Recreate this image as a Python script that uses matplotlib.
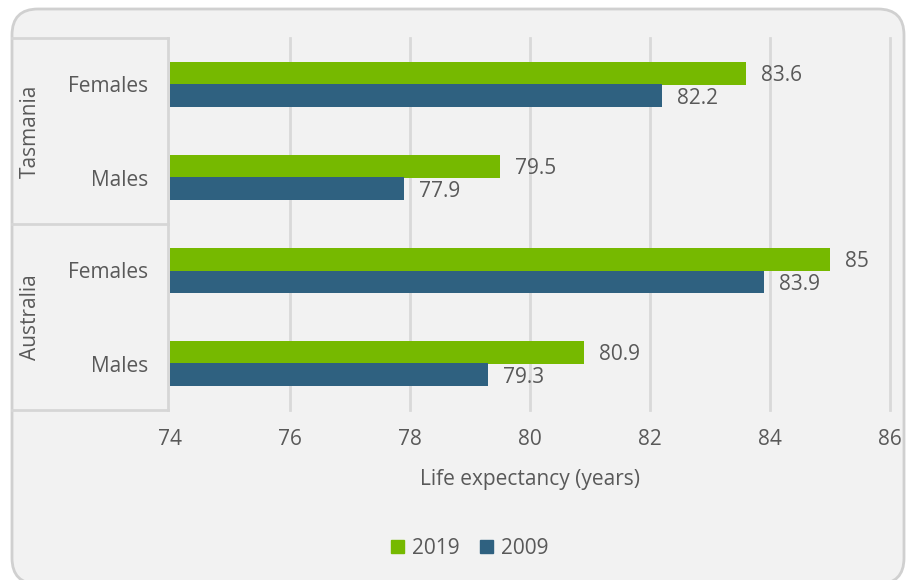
import matplotlib.pyplot as plt
import numpy as np
from matplotlib.patches import FancyBboxPatch, Patch
from matplotlib.lines import Line2D

plt.rcParams['font.family'] = ['Open Sans', 'DejaVu Sans']

groups = ['Tasmania', 'Australia']
sexes = ['Females', 'Males', 'Females', 'Males']
vals_2019 = [83.6, 79.5, 85.0, 80.9]
vals_2009 = [82.2, 77.9, 83.9, 79.3]
xticks = [74, 76, 78, 80, 82, 84, 86]

GREEN = '#76b900'
BLUE = '#2f6180'
TXT = '#595959'
GRID = '#d9d9d9'
FS = 15

W, H = 906, 580
fig = plt.figure(figsize=(W / 100, H / 100), dpi=100)
fig.patch.set_facecolor('white')

# rounded panel behind everything (pixel coords)
panel = FancyBboxPatch((12, -4), 892, 575, boxstyle='round,pad=0,rounding_size=26',
                       transform=None, facecolor='#f2f2f2', edgecolor='#d0d0d0',
                       linewidth=2, zorder=-5)
fig.patches.append(panel)

x0, x1, y0, y1 = 170, 890, 38, 410
ax = fig.add_axes([x0 / W, 1 - y1 / H, (x1 - x0) / W, (y1 - y0) / H])
ax.set_facecolor('none')
ax.set_zorder(2)

n = len(sexes)
ypos = np.arange(n)[::-1]
bh = 0.237
ax.barh(ypos + bh / 2, np.array(vals_2019) - 74, left=74, height=bh, color=GREEN, label='2019', zorder=3)
ax.barh(ypos - bh / 2, np.array(vals_2009) - 74, left=74, height=bh, color=BLUE, label='2009', zorder=3)

for y, v in zip(ypos, vals_2019):
    ax.annotate(f'{v:g}', (v, y + bh / 2), xytext=(11, 0), textcoords='offset points',
                va='center_baseline', ha='left', fontsize=FS, color=TXT)
for y, v in zip(ypos, vals_2009):
    ax.annotate(f'{v:g}', (v, y - bh / 2), xytext=(11, 0), textcoords='offset points',
                va='center_baseline', ha='left', fontsize=FS, color=TXT)

ax.set_xlim(74, 86)
ax.set_ylim(-0.5, n - 0.5)
ax.set_xticks(xticks)
ax.set_yticks([])
ax.tick_params(axis='x', length=0, pad=14, labelsize=FS, labelcolor=TXT)
ax.grid(axis='x', color=GRID, linewidth=2, zorder=0)
for gl in ax.get_xgridlines():
    gl.set_clip_on(False)
ax.get_xgridlines()[0].set_visible(False)
for s in ax.spines.values():
    s.set_visible(False)
ax.set_xlabel('Life expectancy (years)', fontsize=FS, color=TXT, labelpad=13)

# category labels
for y, s in zip(ypos, sexes):
    ax.annotate(s, (0, y), xycoords=ax.get_yaxis_transform(), xytext=(-16, 0),
                textcoords='offset points', ha='right', va='center_baseline',
                fontsize=FS, color=TXT, annotation_clip=False)
for g, yy in zip(groups, [131, 317]):
    fig.text(30 / W, 1 - yy / H, g, rotation=90, ha='center', va='center',
             fontsize=FS, color=TXT)

# category box lines
for yy in [y0, 224, y1]:
    fig.lines.append(Line2D([12, 168], [H - yy, H - yy], transform=None, color='#d6d6d6', lw=2, zorder=-1))
fig.lines.append(Line2D([168, 168], [H - y1, H - y0], transform=None, color='#d6d6d6', lw=2, zorder=-1))

handles = [Patch(color=GREEN, label='2019'), Patch(color=BLUE, label='2009')]
fig.legend(handles=handles, loc='center', bbox_to_anchor=(470 / W, 1 - 548 / H), ncol=2,
           frameon=False, fontsize=FS, labelcolor=TXT, handlelength=0.6, handleheight=0.6,
           handletextpad=0.4, columnspacing=1.0)

fig.savefig('out.png', dpi=100)
